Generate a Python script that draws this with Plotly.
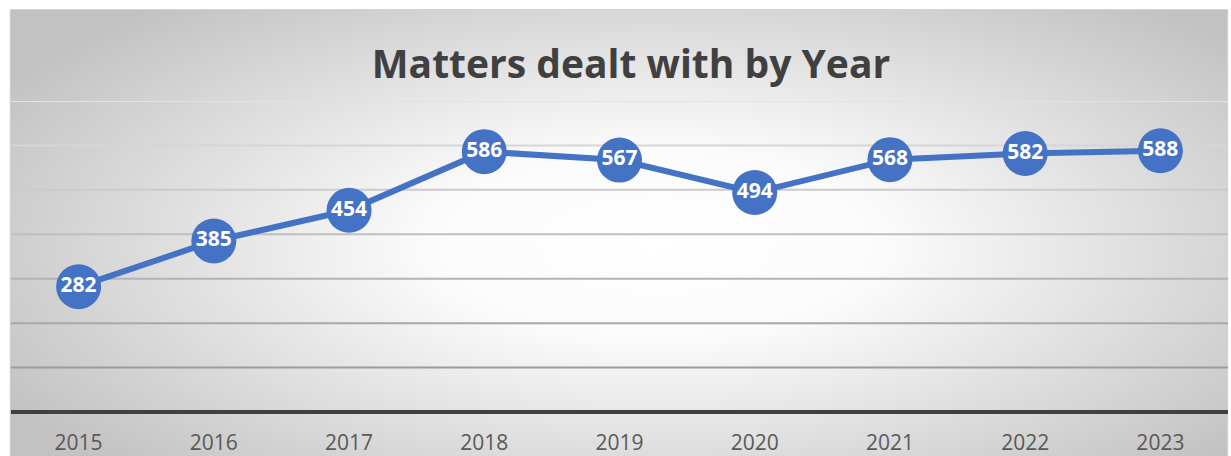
import base64
import plotly.graph_objects as go

# ---- data ----
years = ["2015", "2016", "2017", "2018", "2019", "2020", "2021", "2022", "2023"]
matters = [282, 385, 454, 586, 567, 494, 568, 582, 588]
grid_values = [100, 200, 300, 400, 500, 600, 700]
title_text = "Matters dealt with by Year"

# ---- layout geometry (page pixels) ----
W, H = 1231, 456
plot_l, plot_r, plot_t, plot_b = 10.5, 1227.6, 101, 412
pw, ph = plot_r - plot_l, plot_b - plot_t
chart_l, chart_r, chart_t, chart_b = 9, 1228, 9, 520

svg = f"""<svg xmlns='http://www.w3.org/2000/svg' width='{chart_r-chart_l}' height='{chart_b-chart_t}' viewBox='0 0 {chart_r-chart_l} {chart_b-chart_t}' preserveAspectRatio='none'>
<defs><radialGradient id='g' cx='0.53' cy='0.46' r='0.62'>
<stop offset='0' stop-color='#ffffff'/>
<stop offset='0.3' stop-color='#fbfbfb'/>
<stop offset='1' stop-color='#c2c2c2'/>
</radialGradient></defs>
<rect x='0.5' y='0.5' width='{chart_r-chart_l-1}' height='{chart_b-chart_t-1}' fill='url(#g)' stroke='#d4d4d4' stroke-width='1'/>
</svg>"""
src = "data:image/svg+xml;base64," + base64.b64encode(svg.encode()).decode()

def grid_color(v):
    # lighter towards the top
    t = (v - 100) / 600
    c = int(round(0x9c + t * (0xe2 - 0x9c)))
    return f"#{c:02x}{c:02x}{c:02x}"

fig = go.Figure()
fig.add_trace(go.Scatter(
    x=years, y=matters, mode="lines+markers+text",
    line=dict(color="#4472C4", width=6),
    marker=dict(color="#4472C4", size=45, line=dict(width=0)),
    text=[str(v) for v in matters], textposition="middle center",
    textfont=dict(family="Open Sans", size=21, color="white", weight="bold"),
    cliponaxis=False, hoverinfo="skip",
))

shapes = []
for v in grid_values:
    shapes.append(dict(type="line", xref="paper", yref="y", x0=0, x1=1, y0=v, y1=v,
                       line=dict(color=grid_color(v), width=2), layer="below"))
# horizontal axis line (at the bottom of the plot area)
shapes.append(dict(type="line", xref="paper", yref="paper", x0=0, x1=1, y0=0, y1=0,
                   line=dict(color="#404040", width=4), layer="below"))

fig.update_layout(
    width=W, height=H,
    margin=dict(l=plot_l, r=W - plot_r, t=plot_t, b=H - plot_b, pad=0, autoexpand=False),
    paper_bgcolor="white", plot_bgcolor="rgba(0,0,0,0)",
    showlegend=False,
    title=dict(text=title_text, xref="container", yref="container",
               x=631 / W, y=1 - 64 / H, xanchor="center", yanchor="middle",
               font=dict(family="Open Sans", size=39, color="#404040", weight="bold")),
    xaxis=dict(type="category", range=[-0.5, 8.5], showgrid=False, zeroline=False,
               showline=False, ticks="", tickfont=dict(family="Open Sans", size=21, color="#595959"),
               ticklabelstandoff=16, automargin=False, fixedrange=True),
    yaxis=dict(range=[0, 700], showgrid=False, zeroline=False, showline=False,
               showticklabels=False, ticks="", automargin=False, fixedrange=True),
    shapes=shapes,
    images=[dict(source=src, xref="paper", yref="paper",
                 x=(chart_l - plot_l) / pw, y=(plot_b - chart_t) / ph,
                 sizex=(chart_r - chart_l) / pw, sizey=(chart_b - chart_t) / ph,
                 xanchor="left", yanchor="top", sizing="stretch", layer="below")],
)

fig.write_html("out.html")
